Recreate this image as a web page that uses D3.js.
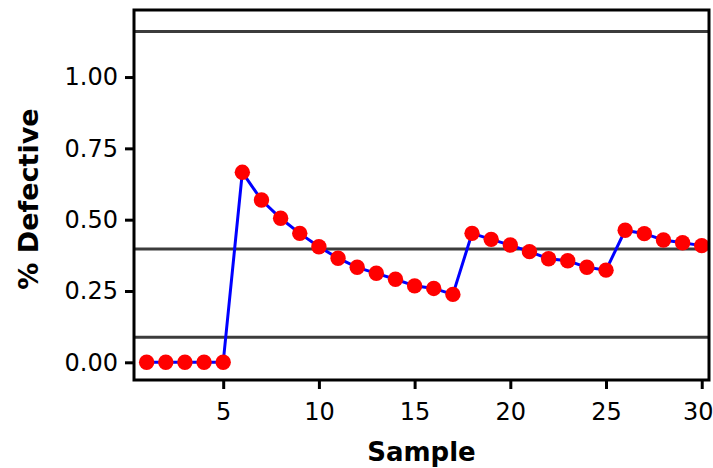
<!DOCTYPE html>
<html>
<head>
<meta charset="utf-8">
<script src="https://cdn.jsdelivr.net/npm/d3@7"></script>
<style>
  body { margin: 0; background: #fff; }
  svg { display: block; }
</style>
</head>
<body>
<div id="chart"></div>
<script>
var samples = d3.range(1, 31);
var defective = [0, 0, 0, 0, 0, 0.666, 0.569, 0.505, 0.452, 0.405,
  0.365, 0.333, 0.312, 0.291, 0.268, 0.259, 0.238, 0.452, 0.431, 0.411,
  0.388, 0.363, 0.356, 0.333, 0.323, 0.463, 0.451, 0.429, 0.419, 0.409];
var limits = [1.160, 0.397, 0.0876]; // UCL, CL, LCL
var xTicks = [5, 10, 15, 20, 25, 30];
var yTicks = [0, 0.25, 0.5, 0.75, 1.0];

var width = 713, height = 468;
var margin = {top: 10, right: 4, bottom: 88, left: 134};
var w = width - margin.left - margin.right;
var h = height - margin.top - margin.bottom;

var svg = d3.select('#chart').append('svg')
  .attr('width', width).attr('height', height);
var g = svg.append('g').attr('transform', 'translate(' + margin.left + ',' + margin.top + ')');

var x = d3.scaleLinear().domain([0.34, 30.38]).range([0, w]);
var y = d3.scaleLinear().domain([-0.062, 1.235]).range([h, 0]);

// control limit lines
g.selectAll('line.limit').data(limits).enter().append('line')
  .attr('class', 'limit')
  .attr('x1', 0).attr('x2', w)
  .attr('y1', function (d) { return y(d); })
  .attr('y2', function (d) { return y(d); })
  .attr('stroke', '#3c3c3c').attr('stroke-width', 3);

// data line
var line = d3.line()
  .x(function (d, i) { return x(samples[i]); })
  .y(function (d) { return y(d); });
g.append('path').datum(defective)
  .attr('d', line)
  .attr('fill', 'none').attr('stroke', '#0000ff').attr('stroke-width', 3);

g.selectAll('circle').data(defective).enter().append('circle')
  .attr('cx', function (d, i) { return x(samples[i]); })
  .attr('cy', function (d) { return y(d); })
  .attr('r', 7.7)
  .attr('fill', '#ff0000');

// frame
g.append('rect').attr('width', w).attr('height', h)
  .attr('fill', 'none').attr('stroke', '#000').attr('stroke-width', 3);

var xAxis = g.append('g').attr('transform', 'translate(0,' + h + ')')
  .call(d3.axisBottom(x).tickValues(xTicks).tickSize(9).tickPadding(14).tickSizeOuter(0));
var yAxis = g.append('g')
  .call(d3.axisLeft(y).tickValues(yTicks).tickSize(9).tickPadding(7).tickFormat(d3.format('.2f')).tickSizeOuter(0));

[xAxis, yAxis].forEach(function (a) {
  a.select('.domain').remove();
  a.selectAll('.tick line').attr('stroke', '#000').attr('stroke-width', 3);
  a.selectAll('.tick text')
    .attr('fill', '#000')
    .style('font-family', '"DejaVu Sans", sans-serif')
    .style('font-size', '24px');
});
// keep the last label inside the window
xAxis.selectAll('.tick text').filter(function (d) { return d === 30; }).attr('dx', -4);

svg.append('text')
  .attr('x', margin.left + w / 2).attr('y', 461)
  .attr('text-anchor', 'middle')
  .style('font-family', '"DejaVu Sans", sans-serif')
  .style('font-weight', 'bold').style('font-size', '26px')
  .text('Sample');

svg.append('text')
  .attr('transform', 'translate(38,199) rotate(-90)')
  .attr('text-anchor', 'middle')
  .style('font-family', '"DejaVu Sans", sans-serif')
  .style('font-weight', 'bold').style('font-size', '27px')
  .text('% Defective');
</script>
</body>
</html>
